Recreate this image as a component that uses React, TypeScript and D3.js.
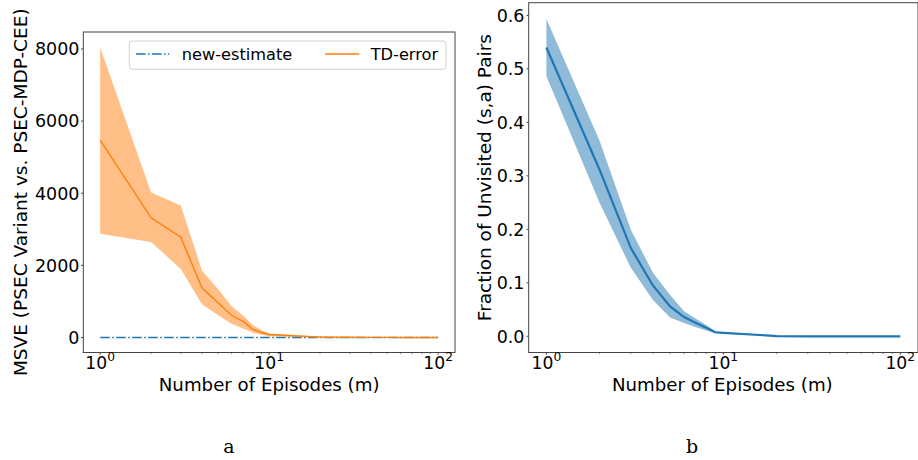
import React from "react";
import * as d3 from "d3";

const episodes = [1, 2, 3, 4, 5, 6, 7, 8, 9, 10, 20, 30, 40, 50, 60, 70, 80, 90, 100];

// Panel a: TD-error MSVE (mean and band) and new-estimate
const tdMean = [5470, 3320, 2780, 1380, 960, 610, 450, 225, 140, 85, 12, 6, 4, 3, 2, 2, 1, 1, 1];
const tdUpper = [8040, 4020, 3660, 1860, 1330, 870, 610, 345, 210, 110, 30, 15, 10, 8, 6, 5, 4, 4, 3];
const tdLower = [2880, 2650, 1900, 920, 620, 380, 250, 140, 80, 35, 0, 0, 0, 0, 0, 0, 0, 0, 0];
const newEstimate = [0, 0, 0, 0, 0, 0, 0, 0, 0, 0, 0, 0, 0, 0, 0, 0, 0, 0, 0];

// Panel b: fraction of unvisited (s,a) pairs
const fracMean = [0.54, 0.311, 0.165, 0.095, 0.056, 0.036, 0.025, 0.016, 0.0075, 0.0065, 0.0005, 0, 0, 0, 0, 0, 0, 0, 0];
const fracUpper = [0.593, 0.365, 0.199, 0.119, 0.077, 0.047, 0.033, 0.021, 0.0095, 0.008, 0.001, 0, 0, 0, 0, 0, 0, 0, 0];
const fracLower = [0.486, 0.249, 0.128, 0.068, 0.035, 0.025, 0.017, 0.011, 0.0055, 0.005, 0, 0, 0, 0, 0, 0, 0, 0, 0];

const leftYTicks = [0, 2000, 4000, 6000, 8000];
const rightYTicks = [0, 0.1, 0.2, 0.3, 0.4, 0.5, 0.6];
const xMajorTicks = [1, 10, 100];
const xExponents = ["0", "1", "2"];

const FONT = "DejaVu Sans, sans-serif";
const ORANGE = "#ff7f0e";
const BLUE = "#1f77b4";
const SPINE = "#444";

type Box = { l: number; t: number; r: number; b: number };

function XAxis({ x, box }: { x: d3.ScaleLogarithmic<number, number>; box: Box }) {
  const minor: number[] = [];
  [1, 10].forEach((dec) => {
    for (let k = 2; k <= 9; k++) minor.push(dec * k);
  });
  return (
    <g>
      {minor.map((v) => (
        <line key={"m" + v} x1={x(v)} x2={x(v)} y1={box.b} y2={box.b + 1.3} stroke={SPINE} strokeWidth={0.8} />
      ))}
      {xMajorTicks.map((v, i) => (
        <g key={"M" + v}>
          <line x1={x(v)} x2={x(v)} y1={box.b} y2={box.b + 2.2} stroke={SPINE} strokeWidth={1} />
          <text x={x(v)} y={369} textAnchor="middle" fontFamily={FONT} fontSize={17.2} fill="#000">
            10
            <tspan dy={-8} fontSize={12.3}>
              {xExponents[i]}
            </tspan>
          </text>
        </g>
      ))}
    </g>
  );
}

export default function App() {
  // Panel a geometry
  const boxA: Box = { l: 83.3, t: 32, r: 455, b: 352.5 };
  const xA = d3.scaleLog().domain([Math.pow(10, -0.1), Math.pow(10, 2.1)]).range([boxA.l, boxA.r]);
  const yA = d3.scaleLinear().domain([-415, 8470]).range([boxA.b, boxA.t]);

  // Panel b geometry
  const boxB: Box = { l: 528.7, t: 2.7, r: 918, b: 352.5 };
  const xB = d3.scaleLog().domain([Math.pow(10, -0.1), Math.pow(10, 2.1)]).range([boxB.l, boxB.r]);
  const yB = d3.scaleLinear().domain([-0.0303, 0.6237]).range([boxB.b, boxB.t]);

  const idx = episodes.map((_, i) => i);

  const areaA = d3
    .area<number>()
    .x((i) => xA(episodes[i]))
    .y0((i) => yA(tdLower[i]))
    .y1((i) => yA(tdUpper[i]));
  const lineA = d3
    .line<number>()
    .x((i) => xA(episodes[i]))
    .y((i) => yA(tdMean[i]));
  const lineNew = d3
    .line<number>()
    .x((i) => xA(episodes[i]))
    .y((i) => yA(newEstimate[i]));

  const areaB = d3
    .area<number>()
    .x((i) => xB(episodes[i]))
    .y0((i) => yB(fracLower[i]))
    .y1((i) => yB(fracUpper[i]));
  const lineB = d3
    .line<number>()
    .x((i) => xB(episodes[i]))
    .y((i) => yB(fracMean[i]));

  return (
    <svg
      width={918}
      height={460}
      style={{ position: "absolute", left: 0, top: 0, background: "#fff" }}
    >
      <rect x={0} y={0} width={918} height={460} fill="#fff" />
      <defs>
        <clipPath id="clipA">
          <rect x={boxA.l} y={boxA.t} width={boxA.r - boxA.l} height={boxA.b - boxA.t} />
        </clipPath>
        <clipPath id="clipB">
          <rect x={boxB.l} y={boxB.t} width={boxB.r - boxB.l} height={boxB.b - boxB.t} />
        </clipPath>
      </defs>
      {/* Panel a */}
      <g clipPath="url(#clipA)">
        <path d={lineNew(idx) || ""} fill="none" stroke={BLUE} strokeWidth={1.6} strokeDasharray="9.6 2.4 1.6 2.4" />
        <path d={areaA(idx) || ""} fill={ORANGE} fillOpacity={0.5} stroke="none" />
        <path d={lineA(idx) || ""} fill="none" stroke={ORANGE} strokeWidth={1.4} />
      </g>
      <rect x={boxA.l} y={boxA.t} width={boxA.r - boxA.l} height={boxA.b - boxA.t} fill="none" stroke={SPINE} strokeWidth={1} />
      {leftYTicks.map((v) => (
        <g key={v}>
          <line x1={boxA.l - 2.2} x2={boxA.l} y1={yA(v)} y2={yA(v)} stroke={SPINE} strokeWidth={1} />
          <text x={79.5} y={yA(v) + 6.3} textAnchor="end" fontFamily={FONT} fontSize={17.5} fill="#000">
            {v}
          </text>
        </g>
      ))}
      <XAxis x={xA} box={boxA} />
      <text x={(boxA.l + boxA.r) / 2} y={391} textAnchor="middle" fontFamily={FONT} fontSize={18.2} fill="#000">
        Number of Episodes (m)
      </text>
      <text
        transform={`translate(27,${(boxA.t + boxA.b) / 2}) rotate(-90)`}
        textAnchor="middle"
        fontFamily={FONT}
        fontSize={18.5}
        fill="#000"
      >
        MSVE (PSEC Variant vs. PSEC-MDP-CEE)
      </text>
      {/* Legend */}
      <rect x={129.3} y={41} width={316.7} height={28.3} rx={3} fill="#fff" fillOpacity={0.8} stroke="#d0d0d0" strokeWidth={1} />
      <line x1={136} x2={169.3} y1={54} y2={54} stroke={BLUE} strokeWidth={1.6} strokeDasharray="9.6 2.4 1.6 2.4" />
      <text x={181.7} y={59.5} fontFamily={FONT} fontSize={16.2} fill="#000">
        new-estimate
      </text>
      <line x1={325} x2={359.3} y1={54} y2={54} stroke={ORANGE} strokeWidth={1.4} />
      <text x={370.7} y={59.5} fontFamily={FONT} fontSize={16.2} fill="#000">
        TD-error
      </text>

      {/* Panel b */}
      <g clipPath="url(#clipB)">
        <path d={areaB(idx) || ""} fill={BLUE} fillOpacity={0.5} stroke="none" />
        <path d={lineB(idx) || ""} fill="none" stroke={BLUE} strokeWidth={2.2} />
      </g>
      <rect x={boxB.l} y={boxB.t} width={boxB.r - boxB.l} height={boxB.b - boxB.t} fill="none" stroke={SPINE} strokeWidth={1} />
      {rightYTicks.map((v) => (
        <g key={v}>
          <line x1={boxB.l - 2.2} x2={boxB.l} y1={yB(v)} y2={yB(v)} stroke={SPINE} strokeWidth={1} />
          <text x={524.5} y={yB(v) + 6.3} textAnchor="end" fontFamily={FONT} fontSize={17.5} fill="#000">
            {v.toFixed(1)}
          </text>
        </g>
      ))}
      <XAxis x={xB} box={boxB} />
      <text x={(boxB.l + boxB.r) / 2 - 1} y={391} textAnchor="middle" fontFamily={FONT} fontSize={18.2} fill="#000">
        Number of Episodes (m)
      </text>
      <text
        transform={`translate(491,${(boxB.t + boxB.b) / 2}) rotate(-90)`}
        textAnchor="middle"
        fontFamily={FONT}
        fontSize={18.5}
        fill="#000"
      >
        Fraction of Unvisited (s,a) Pairs
      </text>

      {/* Sub-figure captions */}
      <text x={229} y={453} textAnchor="middle" fontFamily="DejaVu Serif, Liberation Serif, serif" fontSize={19} fill="#000">
        a
      </text>
      <text x={692} y={453} textAnchor="middle" fontFamily="DejaVu Serif, Liberation Serif, serif" fontSize={19} fill="#000">
        b
      </text>
    </svg>
  );
}
